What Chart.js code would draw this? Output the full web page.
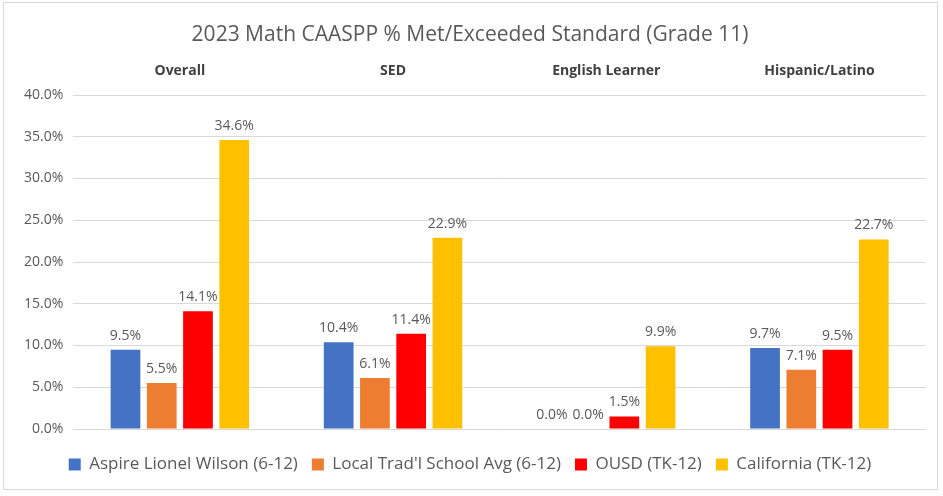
<!DOCTYPE html>
<html>
<head>
<meta charset="utf-8">
<script src="https://cdn.jsdelivr.net/npm/chart.js@4"></script>
<style>
  html, body { margin: 0; padding: 0; background: #fff; }
  #wrap { position: absolute; left: 3px; top: 2px; width: 935px; height: 488px; border: 1px solid #d9d9d9; box-sizing: border-box; }
  canvas { display: block; }
</style>
</head>
<body>
<div id="wrap"><canvas id="chart"></canvas></div>
<script>
const categories = ['Overall', 'SED', 'English Learner', 'Hispanic/Latino'];
const seriesNames = ['Aspire Lionel Wilson (6-12)', "Local Trad'l School Avg (6-12)", 'OUSD (TK-12)', 'California (TK-12)'];
const aspire = [9.5, 10.4, 0.0, 9.7];
const localAvg = [5.5, 6.1, 0.0, 7.1];
const ousd = [14.1, 11.4, 1.5, 9.5];
const california = [34.6, 22.9, 9.9, 22.7];
const colors = ['#4472c4', '#ed7d31', '#ff0000', '#ffc000'];

const font = "'Open Sans', sans-serif";

const valueLabels = {
    id: 'valueLabels',
    afterDatasetsDraw(chart) {
        const ctx = chart.ctx;
        ctx.save();
        ctx.font = '14px ' + font;
        ctx.fillStyle = '#595959';
        ctx.textAlign = 'center';
        ctx.textBaseline = 'bottom';
        chart.data.datasets.forEach((ds, i) => {
            chart.getDatasetMeta(i).data.forEach((bar, j) => {
                ctx.fillText(ds.data[j].toFixed(1) + '%', bar.x, bar.y - 7);
            });
        });
        ctx.restore();
    }
};

const datasets = [aspire, localAvg, ousd, california].map((d, i) => ({
    label: seriesNames[i],
    data: d,
    backgroundColor: colors[i],
    borderWidth: 0,
    categoryPercentage: 0.68,
    barPercentage: 0.82
}));

new Chart(document.getElementById('chart'), {
    type: 'bar',
    data: { labels: categories, datasets: datasets },
    plugins: [valueLabels],
    options: {
        responsive: true,
        maintainAspectRatio: false,
        animation: false,
        layout: { padding: { left: 10, right: 11, top: 8, bottom: 6 } },
        plugins: {
            title: {
                display: true,
                text: '2023 Math CAASPP % Met/Exceeded Standard (Grade 11)',
                color: '#595959',
                font: { family: font, size: 21, weight: 'normal' },
                padding: { top: 11, bottom: 7 }
            },
            legend: {
                position: 'bottom',
                labels: {
                    color: '#595959',
                    font: { family: font, size: 17 },
                    boxWidth: 12,
                    boxHeight: 12,
                    padding: 14
                }
            },
            tooltip: { enabled: false }
        },
        scales: {
            x: {
                position: 'top',
                grid: { display: false },
                border: { display: false },
                ticks: { color: '#404040', font: { family: font, size: 14, weight: 'bold' }, padding: 8 }
            },
            x2: {
                type: 'category',
                labels: categories,
                position: 'bottom',
                grid: { display: false },
                border: { display: false },
                ticks: { display: false },
                afterFit: s => { s.height = 13; }
            },
            y: {
                min: 0,
                max: 40,
                ticks: {
                    stepSize: 5,
                    color: '#595959',
                    font: { family: font, size: 14 },
                    padding: 10,
                    callback: v => v.toFixed(1) + '%'
                },
                grid: { color: '#d9d9d9', drawTicks: false },
                border: { display: false }
            }
        }
    }
});
</script>
</body>
</html>
